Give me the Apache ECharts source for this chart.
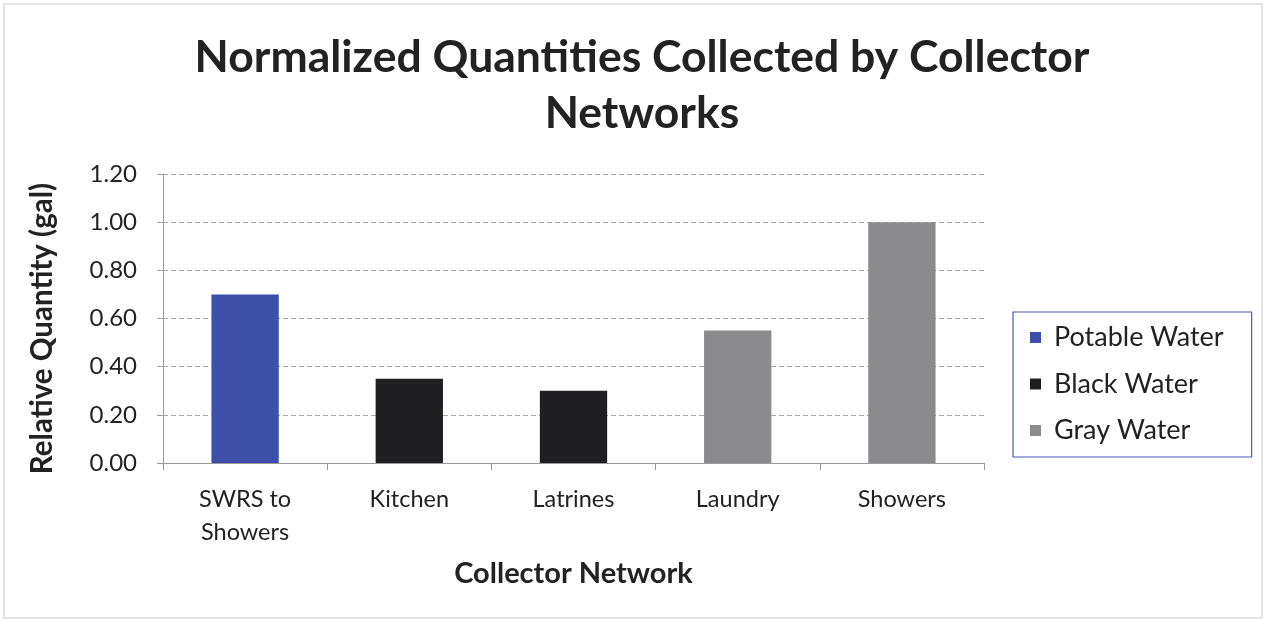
<!DOCTYPE html>
<html>
<head>
<meta charset="utf-8">
<title>Normalized Quantities Collected by Collector Networks</title>
<script src="https://cdn.jsdelivr.net/npm/echarts@6/dist/echarts.min.js"></script>
<style>
  html, body { margin: 0; padding: 0; background: #ffffff; }
  #chart { width: 1267px; height: 621px; }
</style>
</head>
<body>
<div id="chart"></div>
<script>
// Collector networks along the x axis
const categories = ['SWRS to\nShowers', 'Kitchen', 'Latrines', 'Laundry', 'Showers'];
// Relative quantity collected by each network (gal, normalized)
const quantities = [0.70, 0.35, 0.30, 0.55, 1.00];
// Water type handled by each network
const waterTypes = ['Potable Water', 'Black Water', 'Black Water', 'Gray Water', 'Gray Water'];
// Legend entries and their colours
const typeNames = ['Potable Water', 'Black Water', 'Gray Water'];
const typeColors = ['#3d4fa9', '#1f1f21', '#8b8b8e'];
// Value axis ticks
const yTicks = [0, 0.2, 0.4, 0.6, 0.8, 1.0, 1.2];

const FONT = 'Lato, "Open Sans", sans-serif';

const series = typeNames.map((name, i) => ({
  name: name,
  type: 'bar',
  stack: 'networks',
  barWidth: '41%',
  itemStyle: { color: typeColors[i] },
  data: quantities.map((v, k) => (waterTypes[k] === name ? v : '-'))
}));

const chart = echarts.init(document.getElementById('chart'), null, { renderer: 'canvas' });
chart.setOption({
  backgroundColor: '#ffffff',
  animation: false,
  title: {
    text: 'Normalized Quantities Collected by Collector\nNetworks',
    left: 637,
    textAlign: 'center',
    top: 25,
    textStyle: {
      fontFamily: FONT,
      fontWeight: 'bold',
      fontSize: 44.5,
      lineHeight: 56,
      color: '#222222'
    }
  },
  legend: {
    orient: 'vertical',
    left: 1013,
    top: 312,
    padding: [12, 28, 13, 17],
    itemGap: 19.5,
    itemWidth: 11,
    itemHeight: 11,
    icon: 'rect',
    borderColor: '#4a5ab8',
    borderWidth: 1.2,
    textStyle: { fontFamily: FONT, fontSize: 27, color: '#222222', padding: [0, 0, 0, 8] },
    data: typeNames
  },
  graphic: [{
    type: 'rect',
    shape: { x: 4, y: 4, width: 1258, height: 614 },
    style: { fill: 'none', stroke: '#c8c8c8', lineWidth: 1 },
    silent: true
  }],
  grid: { left: 163, right: 283, top: 174, bottom: 158 },
  xAxis: {
    type: 'category',
    data: categories,
    name: 'Collector Network',
    nameLocation: 'middle',
    nameGap: 96,
    nameTextStyle: { fontFamily: FONT, fontWeight: 'bold', fontSize: 29, color: '#222222' },
    axisLine: { lineStyle: { color: '#9a9a9a', width: 1 } },
    axisTick: { show: true, length: 7, lineStyle: { color: '#9a9a9a' } },
    axisLabel: {
      fontFamily: FONT,
      fontSize: 23.5,
      color: '#222222',
      margin: 20,
      lineHeight: 33,
      align: 'center',
      interval: 0
    }
  },
  yAxis: {
    type: 'value',
    min: yTicks[0],
    max: yTicks[yTicks.length - 1],
    interval: 0.2,
    name: 'Relative Quantity (gal)',
    nameLocation: 'middle',
    nameGap: 106,
    nameTextStyle: {
      fontFamily: FONT,
      fontWeight: 'bold',
      fontSize: 29.5,
      color: '#222222',
      padding: [0, 20, 0, 0]
    },
    axisLine: { show: true, lineStyle: { color: '#9a9a9a', width: 1 } },
    axisTick: { show: true, length: 6, lineStyle: { color: '#9a9a9a' } },
    axisLabel: {
      fontFamily: FONT,
      fontSize: 24,
      color: '#222222',
      margin: 26,
      formatter: (v) => v.toFixed(2)
    },
    splitLine: { show: true, lineStyle: { color: '#a8a8a8', type: [5, 3], width: 1 } }
  },
  series: series
});
</script>
</body>
</html>
